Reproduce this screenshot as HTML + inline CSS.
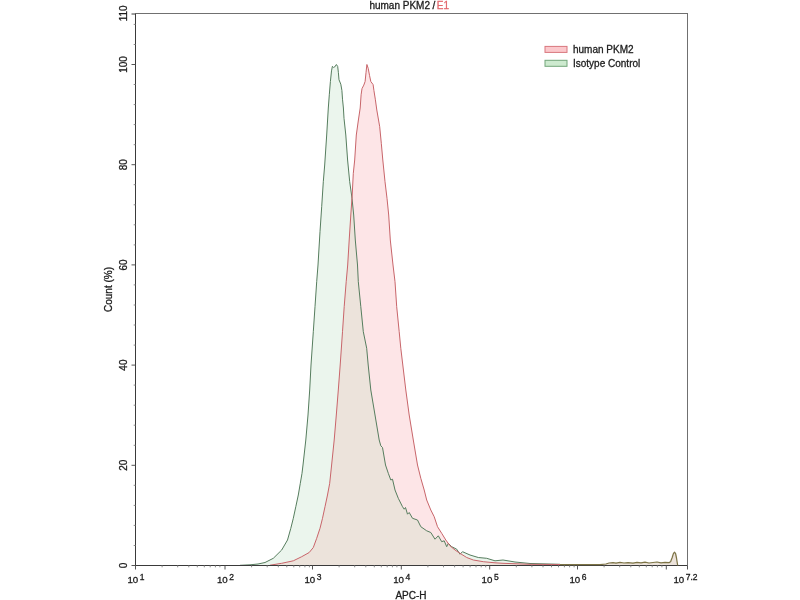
<!DOCTYPE html>
<html><head><meta charset="utf-8"><title>human PKM2 / E1</title>
<style>
html,body{margin:0;padding:0;background:#fff;}
body{width:800px;height:600px;overflow:hidden;}
svg{display:block;}
text{font-family:"Liberation Sans",Arial,sans-serif;font-size:10px;fill:#1c1c1c;stroke:#1c1c1c;stroke-width:0.3px;}
.sup{font-size:8.5px;}
.ten{font-size:9.7px;}
.ax line.mn{stroke:#8a8a8a;}
.ax line.mj{stroke:#555;}
.ax line{stroke:#3a3a3a;stroke-width:1;}
</style></head><body>
<svg width="800" height="600" viewBox="0 0 800 600">
<rect width="800" height="600" fill="#ffffff"/>
<defs><clipPath id="gclip"><path d="M135.5,565.5 L240.0,565.3 L250.0,564.8 L258.0,564.0 L265.0,562.5 L273.3,558.3 L281.7,550.0 L287.5,540.0 L290.8,528.3 L293.3,518.3 L295.8,506.7 L298.3,495.0 L300.3,483.3 L302.0,473.3 L303.0,465.0 L305.8,440.0 L308.0,415.0 L309.7,390.0 L311.0,365.0 L313.3,331.7 L315.0,306.7 L316.7,281.7 L318.0,265.0 L320.0,231.7 L321.7,206.7 L323.3,181.7 L324.7,165.0 L326.7,135.0 L328.3,108.0 L329.3,94.8 L330.4,81.5 L331.5,70.9 L332.4,66.3 L333.6,67.5 L334.6,67.0 L336.4,64.5 L337.7,66.5 L338.4,72.7 L339.0,79.8 L340.8,84.2 L341.9,90.4 L342.5,99.2 L343.4,108.0 L344.0,118.3 L345.8,135.0 L347.6,160.0 L349.7,181.7 L352.0,198.3 L353.7,215.0 L355.3,240.0 L357.5,265.0 L358.3,281.7 L360.8,306.7 L363.3,331.7 L366.7,348.3 L368.2,365.0 L370.8,390.0 L375.0,415.0 L379.2,440.0 L380.8,445.8 L382.5,447.5 L385.5,465.0 L388.3,473.3 L390.8,480.0 L392.5,479.2 L395.0,490.0 L398.3,498.3 L402.5,506.7 L404.2,509.2 L405.5,507.5 L407.5,514.2 L409.2,512.5 L412.5,518.3 L417.5,520.0 L420.8,526.7 L426.7,530.8 L430.8,532.5 L435.0,539.2 L438.3,535.8 L441.7,541.7 L444.2,540.8 L446.7,546.7 L448.3,543.3 L451.7,546.7 L456.7,549.2 L460.0,554.2 L462.5,551.7 L470.0,555.0 L478.3,557.5 L486.7,558.3 L495.0,560.8 L503.0,560.0 L515.0,562.0 L530.0,563.5 L560.0,564.3 L600.0,564.5 L608.0,563.0 L620.0,562.5 L640.0,562.8 L660.0,562.5 L670.0,562.8 L671.5,561.0 L673.5,553.5 L674.6,552.2 L675.8,553.5 L677.3,562.0 L677.8,565.5 L687.5,565.5 Z"/></clipPath></defs>
<path d="M135.5,565.5 L240.0,565.3 L250.0,564.8 L258.0,564.0 L265.0,562.5 L273.3,558.3 L281.7,550.0 L287.5,540.0 L290.8,528.3 L293.3,518.3 L295.8,506.7 L298.3,495.0 L300.3,483.3 L302.0,473.3 L303.0,465.0 L305.8,440.0 L308.0,415.0 L309.7,390.0 L311.0,365.0 L313.3,331.7 L315.0,306.7 L316.7,281.7 L318.0,265.0 L320.0,231.7 L321.7,206.7 L323.3,181.7 L324.7,165.0 L326.7,135.0 L328.3,108.0 L329.3,94.8 L330.4,81.5 L331.5,70.9 L332.4,66.3 L333.6,67.5 L334.6,67.0 L336.4,64.5 L337.7,66.5 L338.4,72.7 L339.0,79.8 L340.8,84.2 L341.9,90.4 L342.5,99.2 L343.4,108.0 L344.0,118.3 L345.8,135.0 L347.6,160.0 L349.7,181.7 L352.0,198.3 L353.7,215.0 L355.3,240.0 L357.5,265.0 L358.3,281.7 L360.8,306.7 L363.3,331.7 L366.7,348.3 L368.2,365.0 L370.8,390.0 L375.0,415.0 L379.2,440.0 L380.8,445.8 L382.5,447.5 L385.5,465.0 L388.3,473.3 L390.8,480.0 L392.5,479.2 L395.0,490.0 L398.3,498.3 L402.5,506.7 L404.2,509.2 L405.5,507.5 L407.5,514.2 L409.2,512.5 L412.5,518.3 L417.5,520.0 L420.8,526.7 L426.7,530.8 L430.8,532.5 L435.0,539.2 L438.3,535.8 L441.7,541.7 L444.2,540.8 L446.7,546.7 L448.3,543.3 L451.7,546.7 L456.7,549.2 L460.0,554.2 L462.5,551.7 L470.0,555.0 L478.3,557.5 L486.7,558.3 L495.0,560.8 L503.0,560.0 L515.0,562.0 L530.0,563.5 L560.0,564.3 L600.0,564.5 L608.0,563.0 L620.0,562.5 L640.0,562.8 L660.0,562.5 L670.0,562.8 L671.5,561.0 L673.5,553.5 L674.6,552.2 L675.8,553.5 L677.3,562.0 L677.8,565.5 L687.5,565.5 Z" fill="#ebf5ed"/>
<path d="M135.5,565.5 L270.0,565.2 L281.7,563.3 L293.3,560.8 L301.7,556.7 L309.2,552.5 L313.3,547.5 L316.7,538.3 L320.0,528.3 L322.5,518.3 L325.0,506.7 L327.5,495.0 L329.7,483.3 L331.3,468.0 L334.2,440.0 L336.3,415.0 L338.3,390.0 L340.2,365.0 L342.5,331.7 L344.2,306.7 L346.2,281.7 L347.7,265.0 L349.2,240.0 L350.8,215.0 L352.2,195.0 L353.3,173.3 L354.7,160.0 L356.3,135.0 L358.4,120.0 L360.2,108.0 L361.1,94.8 L362.0,88.6 L363.8,85.1 L365.1,81.5 L366.0,72.7 L366.9,64.5 L368.2,68.3 L369.5,75.3 L370.8,81.5 L373.1,84.6 L373.9,90.4 L375.3,99.2 L376.8,110.0 L379.7,126.7 L381.3,143.3 L382.8,160.0 L385.0,181.7 L387.0,198.3 L388.7,215.0 L390.3,240.0 L393.0,265.0 L395.0,281.7 L396.7,306.7 L399.2,331.7 L400.8,348.3 L402.8,365.0 L405.8,390.0 L409.2,415.0 L413.3,440.0 L417.5,465.0 L420.8,478.3 L424.2,490.0 L426.7,500.0 L430.8,510.0 L434.2,516.7 L437.5,526.7 L441.7,533.3 L445.8,540.0 L450.0,545.8 L455.0,550.0 L460.0,553.3 L466.7,557.5 L473.3,560.0 L483.3,561.7 L495.0,562.8 L503.0,563.3 L530.0,564.3 L600.0,564.6 L608.0,563.2 L640.0,563.0 L670.0,563.0 L671.5,561.0 L673.5,553.5 L674.6,552.2 L675.8,553.5 L677.3,562.0 L677.8,565.5 L687.5,565.5 Z" fill="#fde5e7"/>
<path d="M135.5,565.5 L270.0,565.2 L281.7,563.3 L293.3,560.8 L301.7,556.7 L309.2,552.5 L313.3,547.5 L316.7,538.3 L320.0,528.3 L322.5,518.3 L325.0,506.7 L327.5,495.0 L329.7,483.3 L331.3,468.0 L334.2,440.0 L336.3,415.0 L338.3,390.0 L340.2,365.0 L342.5,331.7 L344.2,306.7 L346.2,281.7 L347.7,265.0 L349.2,240.0 L350.8,215.0 L352.2,195.0 L353.3,173.3 L354.7,160.0 L356.3,135.0 L358.4,120.0 L360.2,108.0 L361.1,94.8 L362.0,88.6 L363.8,85.1 L365.1,81.5 L366.0,72.7 L366.9,64.5 L368.2,68.3 L369.5,75.3 L370.8,81.5 L373.1,84.6 L373.9,90.4 L375.3,99.2 L376.8,110.0 L379.7,126.7 L381.3,143.3 L382.8,160.0 L385.0,181.7 L387.0,198.3 L388.7,215.0 L390.3,240.0 L393.0,265.0 L395.0,281.7 L396.7,306.7 L399.2,331.7 L400.8,348.3 L402.8,365.0 L405.8,390.0 L409.2,415.0 L413.3,440.0 L417.5,465.0 L420.8,478.3 L424.2,490.0 L426.7,500.0 L430.8,510.0 L434.2,516.7 L437.5,526.7 L441.7,533.3 L445.8,540.0 L450.0,545.8 L455.0,550.0 L460.0,553.3 L466.7,557.5 L473.3,560.0 L483.3,561.7 L495.0,562.8 L503.0,563.3 L530.0,564.3 L600.0,564.6 L608.0,563.2 L640.0,563.0 L670.0,563.0 L671.5,561.0 L673.5,553.5 L674.6,552.2 L675.8,553.5 L677.3,562.0 L677.8,565.5 L687.5,565.5 Z" fill="#ece3db" clip-path="url(#gclip)"/>
<path d="M240.0,565.3 L250.0,564.8 L258.0,564.0 L265.0,562.5 L273.3,558.3 L281.7,550.0 L287.5,540.0 L290.8,528.3 L293.3,518.3 L295.8,506.7 L298.3,495.0 L300.3,483.3 L302.0,473.3 L303.0,465.0 L305.8,440.0 L308.0,415.0 L309.7,390.0 L311.0,365.0 L313.3,331.7 L315.0,306.7 L316.7,281.7 L318.0,265.0 L320.0,231.7 L321.7,206.7 L323.3,181.7 L324.7,165.0 L326.7,135.0 L328.3,108.0 L329.3,94.8 L330.4,81.5 L331.5,70.9 L332.4,66.3 L333.6,67.5 L334.6,67.0 L336.4,64.5 L337.7,66.5 L338.4,72.7 L339.0,79.8 L340.8,84.2 L341.9,90.4 L342.5,99.2 L343.4,108.0 L344.0,118.3 L345.8,135.0 L347.6,160.0 L349.7,181.7 L352.0,198.3 L353.7,215.0 L355.3,240.0 L357.5,265.0 L358.3,281.7 L360.8,306.7 L363.3,331.7 L366.7,348.3 L368.2,365.0 L370.8,390.0 L375.0,415.0 L379.2,440.0 L380.8,445.8 L382.5,447.5 L385.5,465.0 L388.3,473.3 L390.8,480.0 L392.5,479.2 L395.0,490.0 L398.3,498.3 L402.5,506.7 L404.2,509.2 L405.5,507.5 L407.5,514.2 L409.2,512.5 L412.5,518.3 L417.5,520.0 L420.8,526.7 L426.7,530.8 L430.8,532.5 L435.0,539.2 L438.3,535.8 L441.7,541.7 L444.2,540.8 L446.7,546.7 L448.3,543.3 L451.7,546.7 L456.7,549.2 L460.0,554.2 L462.5,551.7 L470.0,555.0 L478.3,557.5 L486.7,558.3 L495.0,560.8 L503.0,560.0 L515.0,562.0 L530.0,563.5 L560.0,564.3" fill="none" stroke="#567d5e" stroke-width="1" stroke-linejoin="round"/>
<path d="M270.0,565.2 L281.7,563.3 L293.3,560.8 L301.7,556.7 L309.2,552.5 L313.3,547.5 L316.7,538.3 L320.0,528.3 L322.5,518.3 L325.0,506.7 L327.5,495.0 L329.7,483.3 L331.3,468.0 L334.2,440.0 L336.3,415.0 L338.3,390.0 L340.2,365.0 L342.5,331.7 L344.2,306.7 L346.2,281.7 L347.7,265.0 L349.2,240.0 L350.8,215.0 L352.2,195.0 L353.3,173.3 L354.7,160.0 L356.3,135.0 L358.4,120.0 L360.2,108.0 L361.1,94.8 L362.0,88.6 L363.8,85.1 L365.1,81.5 L366.0,72.7 L366.9,64.5 L368.2,68.3 L369.5,75.3 L370.8,81.5 L373.1,84.6 L373.9,90.4 L375.3,99.2 L376.8,110.0 L379.7,126.7 L381.3,143.3 L382.8,160.0 L385.0,181.7 L387.0,198.3 L388.7,215.0 L390.3,240.0 L393.0,265.0 L395.0,281.7 L396.7,306.7 L399.2,331.7 L400.8,348.3 L402.8,365.0 L405.8,390.0 L409.2,415.0 L413.3,440.0 L417.5,465.0 L420.8,478.3 L424.2,490.0 L426.7,500.0 L430.8,510.0 L434.2,516.7 L437.5,526.7 L441.7,533.3 L445.8,540.0 L450.0,545.8 L455.0,550.0 L460.0,553.3 L466.7,557.5 L473.3,560.0 L483.3,561.7 L495.0,562.8 L503.0,563.3 L530.0,564.3 L560.0,564.5" fill="none" stroke="#c8656a" stroke-width="1" stroke-linejoin="round"/>
<g class="ax">
<line x1="135.5" y1="13.0" x2="135.5" y2="566.0"/>
<line x1="135.0" y1="565.5" x2="688.0" y2="565.5"/>
<line x1="687.5" y1="13.0" x2="687.5" y2="566.0" style="stroke:#707070"/>
<line x1="135.0" y1="13.5" x2="688.0" y2="13.5" style="stroke:#707070"/>
<line class="mn" x1="162.1" y1="565.5" x2="162.1" y2="567.3"/>
<line class="mn" x1="177.7" y1="565.5" x2="177.7" y2="567.3"/>
<line class="mn" x1="188.8" y1="565.5" x2="188.8" y2="567.3"/>
<line class="mn" x1="197.3" y1="565.5" x2="197.3" y2="567.3"/>
<line class="mn" x1="204.3" y1="565.5" x2="204.3" y2="567.3"/>
<line class="mn" x1="210.2" y1="565.5" x2="210.2" y2="567.3"/>
<line class="mn" x1="215.4" y1="565.5" x2="215.4" y2="567.3"/>
<line class="mn" x1="219.9" y1="565.5" x2="219.9" y2="567.3"/>
<line class="mn" x1="251.6" y1="565.5" x2="251.6" y2="567.3"/>
<line class="mn" x1="267.2" y1="565.5" x2="267.2" y2="567.3"/>
<line class="mn" x1="278.3" y1="565.5" x2="278.3" y2="567.3"/>
<line class="mn" x1="286.8" y1="565.5" x2="286.8" y2="567.3"/>
<line class="mn" x1="293.8" y1="565.5" x2="293.8" y2="567.3"/>
<line class="mn" x1="299.7" y1="565.5" x2="299.7" y2="567.3"/>
<line class="mn" x1="304.9" y1="565.5" x2="304.9" y2="567.3"/>
<line class="mn" x1="309.4" y1="565.5" x2="309.4" y2="567.3"/>
<line class="mn" x1="339.1" y1="565.5" x2="339.1" y2="567.3"/>
<line class="mn" x1="354.7" y1="565.5" x2="354.7" y2="567.3"/>
<line class="mn" x1="365.8" y1="565.5" x2="365.8" y2="567.3"/>
<line class="mn" x1="374.3" y1="565.5" x2="374.3" y2="567.3"/>
<line class="mn" x1="381.3" y1="565.5" x2="381.3" y2="567.3"/>
<line class="mn" x1="387.2" y1="565.5" x2="387.2" y2="567.3"/>
<line class="mn" x1="392.4" y1="565.5" x2="392.4" y2="567.3"/>
<line class="mn" x1="396.9" y1="565.5" x2="396.9" y2="567.3"/>
<line class="mn" x1="427.9" y1="565.5" x2="427.9" y2="567.3"/>
<line class="mn" x1="443.5" y1="565.5" x2="443.5" y2="567.3"/>
<line class="mn" x1="454.6" y1="565.5" x2="454.6" y2="567.3"/>
<line class="mn" x1="463.1" y1="565.5" x2="463.1" y2="567.3"/>
<line class="mn" x1="470.1" y1="565.5" x2="470.1" y2="567.3"/>
<line class="mn" x1="476.0" y1="565.5" x2="476.0" y2="567.3"/>
<line class="mn" x1="481.2" y1="565.5" x2="481.2" y2="567.3"/>
<line class="mn" x1="485.7" y1="565.5" x2="485.7" y2="567.3"/>
<line class="mn" x1="516.3" y1="565.5" x2="516.3" y2="567.3"/>
<line class="mn" x1="531.9" y1="565.5" x2="531.9" y2="567.3"/>
<line class="mn" x1="543.0" y1="565.5" x2="543.0" y2="567.3"/>
<line class="mn" x1="551.5" y1="565.5" x2="551.5" y2="567.3"/>
<line class="mn" x1="558.5" y1="565.5" x2="558.5" y2="567.3"/>
<line class="mn" x1="564.4" y1="565.5" x2="564.4" y2="567.3"/>
<line class="mn" x1="569.6" y1="565.5" x2="569.6" y2="567.3"/>
<line class="mn" x1="574.1" y1="565.5" x2="574.1" y2="567.3"/>
<line class="mn" x1="604.1" y1="565.5" x2="604.1" y2="567.3"/>
<line class="mn" x1="619.7" y1="565.5" x2="619.7" y2="567.3"/>
<line class="mn" x1="630.8" y1="565.5" x2="630.8" y2="567.3"/>
<line class="mn" x1="639.3" y1="565.5" x2="639.3" y2="567.3"/>
<line class="mn" x1="646.3" y1="565.5" x2="646.3" y2="567.3"/>
<line class="mn" x1="652.2" y1="565.5" x2="652.2" y2="567.3"/>
<line class="mn" x1="657.4" y1="565.5" x2="657.4" y2="567.3"/>
<line class="mn" x1="661.9" y1="565.5" x2="661.9" y2="567.3"/>
<line class="mj" x1="135.5" y1="565.5" x2="135.5" y2="569.5"/>
<line class="mj" x1="225.0" y1="565.5" x2="225.0" y2="569.5"/>
<line class="mj" x1="312.5" y1="565.5" x2="312.5" y2="569.5"/>
<line class="mj" x1="401.3" y1="565.5" x2="401.3" y2="569.5"/>
<line class="mj" x1="489.7" y1="565.5" x2="489.7" y2="569.5"/>
<line class="mj" x1="577.5" y1="565.5" x2="577.5" y2="569.5"/>
<line class="mj" x1="666.3" y1="565.5" x2="666.3" y2="569.5"/>
<line class="mj" x1="687.5" y1="565.5" x2="687.5" y2="569.5"/>
<line class="mj" x1="131.5" y1="565.5" x2="135.5" y2="565.5"/>
<line class="mn" x1="133.7" y1="545.5" x2="135.5" y2="545.5"/>
<line class="mn" x1="133.7" y1="525.4" x2="135.5" y2="525.4"/>
<line class="mn" x1="133.7" y1="505.4" x2="135.5" y2="505.4"/>
<line class="mn" x1="133.7" y1="485.3" x2="135.5" y2="485.3"/>
<line class="mj" x1="131.5" y1="465.3" x2="135.5" y2="465.3"/>
<line class="mn" x1="133.7" y1="445.3" x2="135.5" y2="445.3"/>
<line class="mn" x1="133.7" y1="425.2" x2="135.5" y2="425.2"/>
<line class="mn" x1="133.7" y1="405.2" x2="135.5" y2="405.2"/>
<line class="mn" x1="133.7" y1="385.1" x2="135.5" y2="385.1"/>
<line class="mj" x1="131.5" y1="365.1" x2="135.5" y2="365.1"/>
<line class="mn" x1="133.7" y1="345.1" x2="135.5" y2="345.1"/>
<line class="mn" x1="133.7" y1="325.0" x2="135.5" y2="325.0"/>
<line class="mn" x1="133.7" y1="305.0" x2="135.5" y2="305.0"/>
<line class="mn" x1="133.7" y1="284.9" x2="135.5" y2="284.9"/>
<line class="mj" x1="131.5" y1="264.9" x2="135.5" y2="264.9"/>
<line class="mn" x1="133.7" y1="244.9" x2="135.5" y2="244.9"/>
<line class="mn" x1="133.7" y1="224.8" x2="135.5" y2="224.8"/>
<line class="mn" x1="133.7" y1="204.8" x2="135.5" y2="204.8"/>
<line class="mn" x1="133.7" y1="184.7" x2="135.5" y2="184.7"/>
<line class="mj" x1="131.5" y1="164.7" x2="135.5" y2="164.7"/>
<line class="mn" x1="133.7" y1="144.7" x2="135.5" y2="144.7"/>
<line class="mn" x1="133.7" y1="124.6" x2="135.5" y2="124.6"/>
<line class="mn" x1="133.7" y1="104.6" x2="135.5" y2="104.6"/>
<line class="mn" x1="133.7" y1="84.5" x2="135.5" y2="84.5"/>
<line class="mj" x1="131.5" y1="64.5" x2="135.5" y2="64.5"/>
<line class="mn" x1="133.7" y1="44.5" x2="135.5" y2="44.5"/>
<line class="mn" x1="133.7" y1="24.4" x2="135.5" y2="24.4"/>
<line x1="131.5" y1="14.0" x2="135.5" y2="14.0"/>
</g>
<path d="M560.0,564.5 L600.0,564.6 L606.0,564.0 L609.0,563.0 L613.0,562.6 L616.0,563.2 L620.0,562.4 L624.0,563.0 L628.0,562.6 L633.0,563.2 L637.0,562.3 L641.0,562.9 L645.0,562.2 L649.0,563.0 L653.0,562.5 L657.0,562.0 L661.0,562.9 L665.0,562.4 L669.0,562.6 L670.6,561.8 L672.2,557.5 L673.4,553.6 L674.5,552.2 L675.6,553.6 L676.5,558.0 L677.2,562.5 L677.7,565.5" fill="none" stroke="#7d7446" stroke-width="1.25" stroke-linejoin="round"/>
<g>
<text x="138.2" y="583.4" text-anchor="end" class="ten">10</text><text x="139.7" y="579.5" class="sup">1</text>
<text x="227.7" y="583.4" text-anchor="end" class="ten">10</text><text x="229.2" y="579.5" class="sup">2</text>
<text x="315.2" y="583.4" text-anchor="end" class="ten">10</text><text x="316.7" y="579.5" class="sup">3</text>
<text x="404.0" y="583.4" text-anchor="end" class="ten">10</text><text x="405.5" y="579.5" class="sup">4</text>
<text x="492.4" y="583.4" text-anchor="end" class="ten">10</text><text x="493.9" y="579.5" class="sup">5</text>
<text x="580.2" y="583.4" text-anchor="end" class="ten">10</text><text x="581.7" y="579.5" class="sup">6</text>
<text x="684.2" y="583.4" text-anchor="end" class="ten">10</text><text x="685.7" y="579.5" class="sup">7.2</text>
</g>
<g>
<text transform="translate(126.8,565.5) rotate(-90)" text-anchor="middle">0</text>
<text transform="translate(126.8,465.3) rotate(-90)" text-anchor="middle">20</text>
<text transform="translate(126.8,365.1) rotate(-90)" text-anchor="middle">40</text>
<text transform="translate(126.8,264.9) rotate(-90)" text-anchor="middle">60</text>
<text transform="translate(126.8,164.7) rotate(-90)" text-anchor="middle">80</text>
<text transform="translate(126.8,64.5) rotate(-90)" text-anchor="middle">100</text>
<text transform="translate(126.8,13.3) rotate(-90)" text-anchor="middle">110</text>
</g>
<text transform="translate(111.6,289.5) rotate(-90)" text-anchor="middle">Count (%)</text>
<text x="411" y="598.8" text-anchor="middle">APC-H</text>
<text x="369.4" y="8.5">human PKM2</text><text x="432.4" y="8.5">/</text><text x="436.8" y="8.5" style="fill:#e3676c;stroke:#e3676c">E1</text>
<rect x="545" y="46.4" width="22" height="6" fill="#fbc8cc" stroke="#d9777e" stroke-width="1"/>
<rect x="545" y="60.3" width="22" height="6" fill="#cdeacf" stroke="#72a57a" stroke-width="1"/>
<text x="573" y="52.7">human PKM2</text>
<text x="573" y="66.8">Isotype Control</text>
</svg>
</body></html>
